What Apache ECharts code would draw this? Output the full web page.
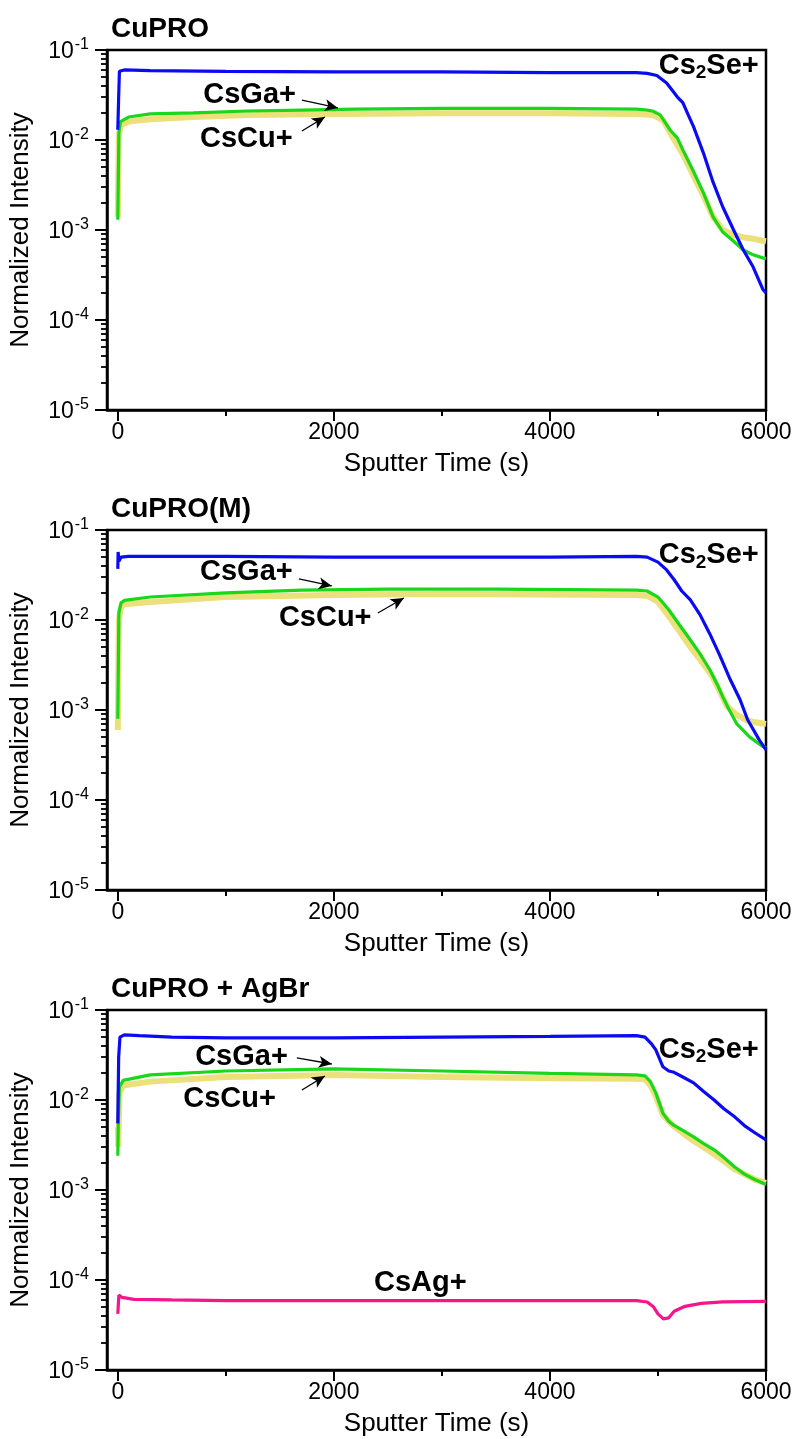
<!DOCTYPE html>
<html><head><meta charset="utf-8">
<script src="https://cdn.jsdelivr.net/npm/echarts@6/dist/echarts.min.js"></script>
<style>html,body{margin:0;padding:0;background:#fff}#c{width:797px;height:1439px}</style>
</head><body><div id="c"></div>
<script>
// ---------- data: [sputter time (s), normalized intensity] ----------
const panelTitles = ['CuPRO', 'CuPRO(M)', 'CuPRO + AgBr'];
const xTickLabels = [0, 2000, 4000, 6000];
const xMinorTicks = [1000, 3000, 5000];
const yDecades = [-5, -4, -3, -2, -1];

const cuproSe = [[0,0.013],[8,0.03],[15,0.058],[60,0.06],[300,0.059],[1000,0.058],[2000,0.057],[3000,0.057],[4000,0.056],[4800,0.056],[4900,0.055],[4990,0.052],[5080,0.043],[5130,0.036],[5180,0.030],[5230,0.026],[5280,0.019],[5330,0.014],[5420,0.0072],[5510,0.0034],[5600,0.0018],[5700,0.001],[5790,0.0006],[5880,0.00039],[5970,0.00022],[6000,0.0002]];
const cuproGa = [[0,0.0013],[10,0.012],[25,0.016],[100,0.018],[300,0.0195],[700,0.020],[1200,0.021],[1700,0.0215],[2200,0.022],[3000,0.0225],[4000,0.0225],[4800,0.022],[4900,0.0215],[4950,0.021],[5020,0.019],[5110,0.013],[5180,0.0105],[5230,0.0078],[5320,0.0047],[5420,0.0026],[5510,0.0014],[5600,0.00095],[5700,0.00075],[5790,0.0006],[5880,0.00053],[5970,0.00049],[6000,0.00048]];
const cuproCu = [[0,0.0014],[10,0.011],[25,0.0145],[100,0.016],[300,0.017],[700,0.018],[1200,0.019],[2000,0.0195],[3000,0.0198],[4000,0.0198],[4800,0.0195],[4950,0.019],[5050,0.0165],[5130,0.011],[5230,0.007],[5320,0.0042],[5420,0.0024],[5510,0.0014],[5600,0.001],[5700,0.00088],[5790,0.00083],[5880,0.0008],[5970,0.00076],[6000,0.00075]];

const cuproMSe = [[0,0.037],[3,0.057],[10,0.045],[30,0.05],[100,0.051],[1000,0.051],[2000,0.05],[3000,0.05],[4000,0.05],[4800,0.051],[4900,0.05],[5000,0.044],[5080,0.036],[5150,0.028],[5220,0.021],[5300,0.0167],[5390,0.0114],[5480,0.007],[5570,0.0041],[5660,0.0023],[5760,0.0013],[5830,0.00078],[5940,0.00046],[6000,0.00036]];
const cuproMGa = [[0,0.0008],[10,0.012],[30,0.0155],[60,0.0165],[300,0.018],[1000,0.02],[1700,0.0215],[2500,0.022],[3500,0.022],[4800,0.0215],[4900,0.021],[5000,0.018],[5100,0.013],[5200,0.0088],[5300,0.006],[5390,0.0042],[5480,0.0028],[5560,0.0018],[5600,0.0014],[5660,0.001],[5730,0.0007],[5850,0.0005],[5960,0.0004],[6000,0.00038]];
const cuproMCu = [[0,0.0006],[10,0.01],[30,0.014],[60,0.015],[300,0.0158],[1000,0.018],[2000,0.019],[3000,0.0195],[4800,0.019],[4900,0.0185],[5000,0.016],[5100,0.011],[5200,0.0075],[5300,0.005],[5400,0.0035],[5500,0.0024],[5640,0.0011],[5720,0.0009],[5820,0.00077],[5900,0.00073],[6000,0.0007]];

const agbrSe = [[0,0.0055],[8,0.03],[20,0.05],[60,0.053],[200,0.052],[500,0.05],[1000,0.049],[2000,0.049],[3000,0.05],[4000,0.051],[4800,0.052],[4880,0.05],[4940,0.042],[4980,0.036],[5046,0.0234],[5100,0.021],[5140,0.0205],[5230,0.018],[5330,0.0155],[5420,0.0125],[5520,0.01],[5610,0.008],[5710,0.0065],[5800,0.0052],[5900,0.0043],[6000,0.0036]];
const agbrGa = [[0,0.0024],[5,0.006],[15,0.014],[50,0.0165],[300,0.019],[1000,0.021],[2000,0.0222],[3000,0.021],[4000,0.0198],[4800,0.019],[4880,0.0185],[4930,0.016],[4980,0.012],[5046,0.0071],[5100,0.0058],[5140,0.0053],[5230,0.0046],[5330,0.0039],[5420,0.0033],[5520,0.0028],[5610,0.0023],[5710,0.0018],[5800,0.0015],[5900,0.0013],[6000,0.00115]];
const agbrCu = [[0,0.005],[5,0.003],[15,0.012],[50,0.0145],[300,0.016],[1000,0.018],[2000,0.019],[3000,0.018],[4000,0.0175],[4800,0.0172],[4880,0.017],[4930,0.0145],[4980,0.011],[5046,0.0068],[5140,0.0052],[5230,0.0043],[5330,0.0035],[5420,0.003],[5520,0.0025],[5610,0.0021],[5710,0.0017],[5800,0.0015],[5900,0.0013],[6000,0.0012]];
const agbrAg = [[0,0.000042],[10,0.000068],[40,0.000064],[150,0.000061],[500,0.00006],[1000,0.000059],[2000,0.000059],[3000,0.000059],[4000,0.000059],[4800,0.000059],[4900,0.000057],[4960,0.00005],[5000,0.000042],[5050,0.000037],[5100,0.000038],[5150,0.000045],[5250,0.000051],[5400,0.000055],[5600,0.000057],[6000,0.000058]];

// annotation anchors [time, log10(intensity)]
const labelSe = [[5470,-1.175],[5470,-1.28],[5470,-1.44]];
const labelGa = [[1220,-1.5],[1190,-1.467],[1145,-1.522]];
const labelCu = [[1190,-1.99],[1920,-1.978],[1035,-1.989]];
const arrowGa = [[[1704,-1.556],[2037,-1.644]],[[1676,-1.544],[1981,-1.622]],[[1657,-1.533],[1981,-1.6]]];
const arrowCu = [[[1704,-1.9],[1917,-1.744]],[[2407,-1.922],[2648,-1.756]],[[1704,-1.889],[1917,-1.733]]];
const labelAg = [2800,-4.03];

// ---------- chart ----------
const FONT = "Arial, 'Liberation Sans', sans-serif";
const gridTops = [50, 530, 1010];
const GRID_H = 360;
const toLog = arr => arr.map(([t, v]) => [t, Math.log10(v)]);
const yMinor = [];
for (let n = -5; n < -1; n++) for (let k = 2; k <= 9; k++) yMinor.push(n + Math.log10(k));

const panels = [
  {se: cuproSe, ga: cuproGa, cu: cuproCu},
  {se: cuproMSe, ga: cuproMGa, cu: cuproMCu},
  {se: agbrSe, ga: agbrGa, cu: agbrCu, ag: agbrAg}
];

const grid = [], xAxis = [], yAxis = [], series = [], title = [];
const BLUE = '#0a0af5', GREEN = '#19d719', YELLOW = '#ebe07a', PINK = '#f5158c';
const annLabel = {fontFamily: FONT, fontWeight: 'bold', fontSize: 29, color: '#000'};

panels.forEach((p, i) => {
  grid.push({left: 107, right: 31, top: gridTops[i], height: GRID_H, show: true,
    borderColor: '#000', borderWidth: 2.5, backgroundColor: 'transparent'});
  title.push({text: panelTitles[i], left: 106, top: gridTops[i] - 40,
    textStyle: {fontFamily: FONT, fontWeight: 'bold', fontSize: 28, color: '#000'}});
  // main x
  xAxis.push({type: 'value', gridIndex: i, min: -100, max: 6000,
    name: 'Sputter Time (s)', nameLocation: 'middle', nameGap: 41,
    nameTextStyle: {fontFamily: FONT, fontSize: 26, color: '#000'},
    axisLine: {show: true, onZero: false, lineStyle: {color: '#000', width: 2.5}},
    axisTick: {show: true, length: 11, customValues: xTickLabels, lineStyle: {color: '#000', width: 2}},
    axisLabel: {show: true, margin: 11, customValues: xTickLabels, formatter: v => String(v),
      fontFamily: FONT, fontSize: 23, color: '#000'},
    splitLine: {show: false}});
  // minor x
  xAxis.push({type: 'value', gridIndex: i, min: -100, max: 6000, position: 'bottom',
    axisLine: {show: false, onZero: false},
    axisTick: {show: true, length: 6, customValues: xMinorTicks, lineStyle: {color: '#000', width: 2}},
    axisLabel: {show: false}, splitLine: {show: false}});
  // main y
  yAxis.push({type: 'value', gridIndex: i, min: -5, max: -1, interval: 1,
    name: 'Normalized Intensity', nameLocation: 'middle', nameGap: 73, nameRotate: 90,
    nameTextStyle: {fontFamily: FONT, fontSize: 26, color: '#000'},
    axisLine: {show: true, onZero: false, lineStyle: {color: '#000', width: 2.5}},
    axisTick: {show: true, length: 12, lineStyle: {color: '#000', width: 2}},
    axisLabel: {show: true, margin: 18, fontFamily: FONT,
      formatter: v => '{b|10}{s|' + v + '}',
      rich: {b: {fontFamily: FONT, fontSize: 23, color: '#000', lineHeight: 26, verticalAlign: 'bottom'},
             s: {fontFamily: FONT, fontSize: 16, color: '#000', lineHeight: 26, verticalAlign: 'top', padding: [0, 0, 12, 1]}}},
    splitLine: {show: false}});
  // minor y
  yAxis.push({type: 'value', gridIndex: i, min: -5, max: -1, position: 'left',
    axisLine: {show: false, onZero: false},
    axisTick: {show: true, length: 6, customValues: yMinor, lineStyle: {color: '#000', width: 1.8}},
    axisLabel: {show: false}, splitLine: {show: false}});

  const xi = i * 2, yi = i * 2;
  const base = {type: 'line', xAxisIndex: xi, yAxisIndex: yi, showSymbol: false, symbol: 'none', animation: false, silent: true};
  series.push(Object.assign({}, base, {name: 'CsCu+', data: toLog(p.cu), lineStyle: {color: YELLOW, width: 6}, z: 2}));
  series.push(Object.assign({}, base, {name: 'CsGa+', data: toLog(p.ga), lineStyle: {color: GREEN, width: 3.2}, z: 3}));
  series.push(Object.assign({}, base, {name: 'Cs2Se+', data: toLog(p.se), lineStyle: {color: BLUE, width: 3.2}, z: 4}));
  if (p.ag) series.push(Object.assign({}, base, {name: 'CsAg+', data: toLog(p.ag), lineStyle: {color: PINK, width: 3.2}, z: 4}));

  // annotations (text + arrows) in data coordinates
  const mpData = [
    {coord: labelSe[i], label: {formatter: '{a|Cs}{sub|2}{a|Se+}'}},
    {coord: labelGa[i], label: {formatter: '{a|CsGa+}'}},
    {coord: labelCu[i], label: {formatter: '{a|CsCu+}'}}
  ];
  if (p.ag) mpData.push({coord: labelAg, label: {formatter: '{a|CsAg+}'}});
  series.push({type: 'line', xAxisIndex: xi, yAxisIndex: yi, data: [], silent: true, animation: false, z: 10,
    markPoint: {symbol: 'circle', symbolSize: 0, silent: true, animation: false,
      label: {show: true, position: 'inside', rich: {
        a: Object.assign({}, annLabel, {lineHeight: 34, verticalAlign: 'middle'}),
        sub: Object.assign({}, annLabel, {fontSize: 19, lineHeight: 34, verticalAlign: 'bottom', padding: [15, 0, 0, 0]})}},
      data: mpData},
    markLine: {silent: true, animation: false, symbol: ['none', 'arrow'], symbolSize: [9, 13],
      label: {show: false}, lineStyle: {color: '#000', width: 1.3, type: 'solid'},
      data: [
        [{coord: arrowGa[i][0]}, {coord: arrowGa[i][1]}],
        [{coord: arrowCu[i][0]}, {coord: arrowCu[i][1]}]
      ]}
  });
});

const chart = echarts.init(document.getElementById('c'), null, {renderer: 'canvas'});
chart.setOption({animation: false, backgroundColor: '#fff', title, grid, xAxis, yAxis, series});
</script></body></html>
